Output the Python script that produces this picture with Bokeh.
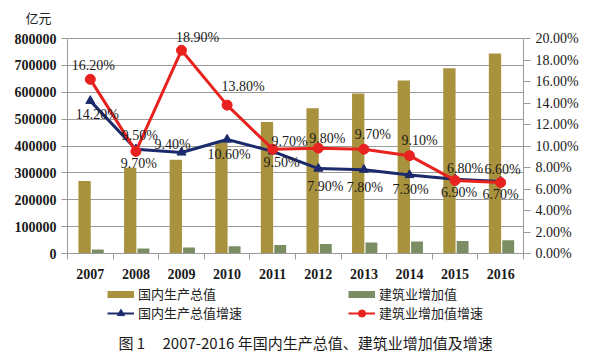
from bokeh.plotting import figure
from bokeh.layouts import column
from bokeh.models import (ColumnDataSource, Range1d, LinearAxis, FixedTicker,
                          SingleIntervalTicker, CustomJSTickFormatter, BasicTickFormatter,
                          Legend, LegendItem, Title, Label)
from bokeh.core.properties import value
from bokeh.transform import dodge
from bokeh.embed import file_html
from bokeh.resources import INLINE

# ---- data ----
years = ["2007", "2008", "2009", "2010", "2011", "2012", "2013", "2014", "2015", "2016"]
gdp = [270232, 319516, 349081, 413030, 489301, 540367, 595244, 643974, 689052, 744127]
construction = [15348, 18807, 22682, 26661, 31943, 35491, 40897, 44880, 46627, 49522]
gdp_growth = [14.2, 9.7, 9.4, 10.6, 9.5, 7.9, 7.8, 7.3, 6.9, 6.7]
cons_growth = [16.2, 9.5, 18.9, 13.8, 9.7, 9.8, 9.7, 9.1, 6.8, 6.6]
y_max = 800000
pct_max = 20

# label offsets (screen px) - styling
gdp_dx = [7, 3, -9, 2, 9, 7, 1, 1, 4, 0]
gdp_dy = [14, 14, -8, 15, 11, 18, 18, 14, 13, 13]
cons_dx = [3, 4, 16, 16, 17, 9, 9, 10, 10, 2]
cons_dy = [-14, -16, -13, -19, -8, -10, -15, -15, -12, -13]

GOLD = "#A8923E"
GREEN = "#7B8D62"
NAVY = "#1B2A6B"
RED = "#E8221E"
GRID = "#9A9A9A"
SERIF = "Liberation Serif"
CJK = "Noto Sans CJK SC"

# frame: 215 px for the value span, plus 10 px headroom for labels above the top gridline
head = 225 / 215

xs = [i + 0.5 for i in range(len(years))]
src = ColumnDataSource(dict(
    x=xs, gdp=gdp, cons=construction, gg=gdp_growth, cg=cons_growth,
    gl=[f"{v:.2f}%" for v in gdp_growth], cl=[f"{v:.2f}%" for v in cons_growth],
    gdx=gdp_dx, gdy=gdp_dy, cdx=cons_dx, cdy=cons_dy,
))

p = figure(width=600, height=285, x_range=Range1d(0, 10), y_range=Range1d(0, y_max * head),
           output_backend="svg", toolbar_location=None,
           min_border_left=67, min_border_right=77, min_border_top=28, min_border_bottom=32)
p.outline_line_color = None
p.background_fill_color = "white"
p.border_fill_color = "white"
p.extra_y_ranges = {"pct": Range1d(0, pct_max * head)}

# axes
p.xaxis.ticker = FixedTicker(ticks=xs, minor_ticks=list(range(len(years) + 1)))
p.xaxis.formatter = CustomJSTickFormatter(args=dict(labels=years),
                                          code="return labels[Math.floor(tick)];")
p.xaxis.major_tick_out = 0
p.xaxis.minor_tick_out = 6
p.xaxis.minor_tick_in = 0
p.xaxis.minor_tick_line_color = GRID
p.xaxis.major_label_standoff = 9

p.yaxis.ticker = SingleIntervalTicker(interval=100000)
p.yaxis.formatter = BasicTickFormatter(use_scientific=False)
p.yaxis.minor_tick_line_color = None
p.yaxis.major_tick_out = 6
p.yaxis.major_tick_in = 0
p.yaxis.major_label_standoff = 5
p.yaxis.bounds = (0, y_max)

ax_r = LinearAxis(y_range_name="pct", ticker=SingleIntervalTicker(interval=2),
                  formatter=CustomJSTickFormatter(code="return tick.toFixed(2) + '%';"))
ax_r.minor_tick_line_color = None
ax_r.major_tick_out = 7
ax_r.major_tick_in = 0
ax_r.major_label_standoff = 5
ax_r.bounds = (0, pct_max)
p.add_layout(ax_r, "right")

for ax in [p.xaxis[0], p.yaxis[0], ax_r]:
    ax.axis_line_color = GRID
    ax.major_label_text_font = SERIF
    ax.major_label_text_color = "#1a1a1a"
p.xaxis.major_tick_line_color = None
p.yaxis[0].major_tick_line_color = GRID
ax_r.major_tick_line_color = GRID
p.xaxis.major_label_text_font_size = "14px"
p.xaxis.major_label_text_font_style = "bold"
p.yaxis[0].major_label_text_font_size = "14px"
p.yaxis[0].major_label_text_font_style = "bold"
ax_r.major_label_text_font_size = "14px"

p.xgrid.visible = False
p.ygrid.ticker = SingleIntervalTicker(interval=100000)
p.ygrid.grid_line_color = GRID
p.ygrid.grid_line_width = 1

# bars
p.vbar(x=dodge("x", -0.125), top="gdp", width=0.27, source=src,
       fill_color=GOLD, line_color=None)
p.vbar(x=dodge("x", 0.165), top="cons", width=0.26, source=src,
       fill_color=GREEN, line_color=None)

# lines
p.line("x", "gg", source=src, y_range_name="pct", line_color=NAVY, line_width=3)
p.scatter("x", "gg", source=src, y_range_name="pct", marker="triangle", size=9,
          fill_color=NAVY, line_color=NAVY)
p.line("x", "cg", source=src, y_range_name="pct", line_color=RED, line_width=3)
p.scatter("x", "cg", source=src, y_range_name="pct", marker="circle", size=10,
          fill_color=RED, line_color=RED)

# data labels
p.text("x", "gg", text="gl", source=src, y_range_name="pct", x_offset="gdx", y_offset="gdy",
       text_font=value(SERIF), text_font_size="14px", text_align="center",
       text_baseline="middle", text_color="#1a1a1a")
p.text("x", "cg", text="cl", source=src, y_range_name="pct", x_offset="cdx", y_offset="cdy",
       text_font=value(SERIF), text_font_size="14px", text_align="center",
       text_baseline="middle", text_color="#1a1a1a")

unit = Title(text="亿元", align="left", offset=-42, text_font=CJK, text_font_size="13px",
             text_font_style="normal", text_color="#222222", standoff=4)
p.add_layout(unit, "above")

# ---- legend + caption strip (frame aligned with the chart frame) ----
q = figure(width=600, height=73, x_range=Range1d(0, 1), y_range=Range1d(0, 1),
           output_backend="svg", toolbar_location=None,
           min_border_left=67, min_border_right=77, min_border_top=0, min_border_bottom=0)
q.axis.visible = False
q.grid.visible = False
q.outline_line_color = None
q.background_fill_color = "white"
q.border_fill_color = "white"

# legend carriers: single off-range points so the legend has glyphs to draw
off = dict(x=[-5], y=[-5])
sw1 = q.line(line_color=GOLD, line_width=7, source=ColumnDataSource(off))
sw2 = q.line(line_color=GREEN, line_width=7, source=ColumnDataSource(off))
k1 = q.line(line_color=NAVY, line_width=2, source=ColumnDataSource(off))
k1m = q.scatter(marker="triangle", size=8, fill_color=NAVY, line_color=NAVY,
                source=ColumnDataSource(off))
k2 = q.line(line_color=RED, line_width=2, source=ColumnDataSource(off))
k2m = q.scatter(marker="circle", size=7, fill_color=RED, line_color=RED,
                source=ColumnDataSource(off))

legend = Legend(items=[
    LegendItem(label="国内生产总值", renderers=[sw1]),
    LegendItem(label="国内生产总值增速", renderers=[k1, k1m]),
    LegendItem(label="建筑业增加值", renderers=[sw2]),
    LegendItem(label="建筑业增加值增速", renderers=[k2, k2m]),
], ncols=2, location=(40, 36))
legend.label_text_font = CJK
legend.label_text_font_size = "13px"
legend.label_text_color = "#222222"
legend.glyph_width = 27
legend.glyph_height = 18
legend.label_height = 18
legend.label_width = 210
legend.label_standoff = 4
legend.spacing = 0
legend.padding = 0
legend.margin = 0
legend.border_line_color = None
legend.background_fill_alpha = 0
q.add_layout(legend, "center")

q.add_layout(Label(x=51, y=16, x_units="screen", y_units="screen", text="图 1",
                   text_font=CJK, text_font_size="15px", text_baseline="middle",
                   text_color="#1a1a1a"))
q.add_layout(Label(x=95, y=16, x_units="screen", y_units="screen",
                   text="2007-2016 年国内生产总值、建筑业增加值及增速",
                   text_font=CJK, text_font_size="15px", text_baseline="middle",
                   text_color="#1a1a1a"))

open("out.html", "w").write(file_html(column(p, q), INLINE))
